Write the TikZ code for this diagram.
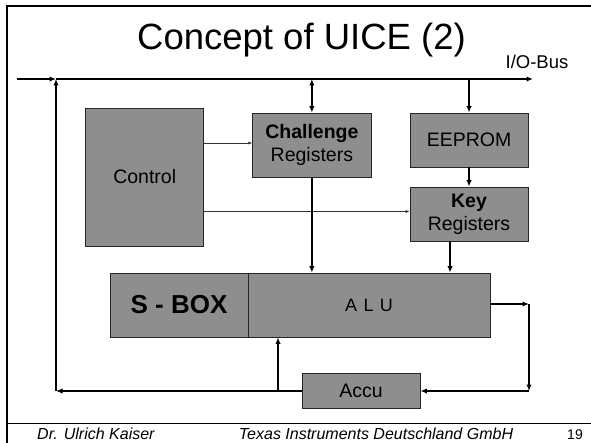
\documentclass[tikz,border=0pt]{standalone}
\usepackage{fontspec}
\setmainfont{Liberation Sans}
\usetikzlibrary{arrows.meta,calc}
\definecolor{boxgray}{RGB}{142,142,142}

\begin{document}
\begin{tikzpicture}[x=1pt,y=-1pt,
  block/.style={draw=black!85, line width=0.9pt, fill=boxgray, minimum width=118pt,
                inner sep=0pt, font=\fontsize{19.5}{23}\selectfont, align=center},
  flow/.style={line width=1.5pt, -{Latex[length=6.5pt,width=5.5pt]}},
  link/.style={line width=1.5pt},
  ctrl/.style={line width=0.7pt, draw=black!80, -{Latex[length=4pt,width=3.2pt]}},
  frame/.style={line width=2pt},
]
\useasboundingbox (0,0) rectangle (591,443);

% slide frame
\draw[frame] (591,5.7) -- (7,5.7) -- (7,443);
\draw[line width=1pt] (7,423) -- (591,423);

% title and bus label
\node[anchor=base, font=\fontsize{36.5}{40}\selectfont, inner sep=0pt] (title) at (301.5,50) {Concept of UICE (2)};
\node[anchor=base, font=\fontsize{18.5}{22}\selectfont, inner sep=0pt] (buslabel) at (537,69) {I/O-Bus};

% functional blocks
\node[block, minimum width=118pt, minimum height=138pt] (ctl) at (144.7,177) {Control};
\node[block, minimum width=118.3pt, minimum height=64pt] (chal) at (311.85,145) {\textbf{Challenge}\\Registers};
\node[block, minimum height=54pt] (eep) at (469,140) {EEPROM};
\node[block, minimum height=54pt] (key) at (469,214) {\textbf{Key}\\Registers};
\node[block, minimum width=138pt, minimum height=64pt, font=\fontsize{26}{30}\selectfont\bfseries] (sbox) at (179,305) {S - BOX};
\node[block, minimum width=242pt, minimum height=64pt, font=\fontsize{18}{22}\selectfont] (alu) at (369,305) {A\hspace{0.35em}L\hspace{0.35em}U};
\node[block, minimum height=35pt] (accu) at (361,390.5) {Accu};

% bus coordinates
\coordinate (busL) at (17,79);
\coordinate (busJ) at (56,79);
\coordinate (busR) at (533,79);
\coordinate (fbL) at (56,391);
\coordinate (fbU) at (278,391);
\coordinate (rc1) at (529,304);
\coordinate (rc2) at (529,391);

% I/O bus
\draw[flow, line width=1.4pt] (busL) -- (busJ);
\draw[flow, line width=1.4pt] (busJ) -- (busR);

% bus to registers
\draw[link, {Latex[length=6.5pt,width=5.5pt]}-{Latex[length=6.5pt,width=5.5pt]}] (chal.north |- busJ) -- (chal.north);
\draw[flow] (eep.north |- busJ) -- (eep.north);
\draw[flow] (eep.south) -- (key.north);

% control lines
\draw[ctrl] ([yshift=2pt]ctl.east |- chal.west) -- ([yshift=2pt]chal.west);
\draw[ctrl] ([yshift=2.5pt]ctl.east |- key.west) -- ([yshift=2.5pt]key.west);

% registers to ALU
\draw[flow] (chal.south) -- (chal.south |- alu.north);
\draw[flow, line width=1.8pt] ([xshift=-19pt]key.south) -- ([xshift=-19pt]key.south |- alu.north);

% ALU output loop through the accumulator
\draw[flow] (alu.east |- rc1) -- (rc1);
\draw[flow] (rc1) -- (rc2);
\draw[flow] (rc2) -- (accu.east |- rc2);
\draw[flow] (accu.west |- fbL) -- (fbL);
\draw[flow] (fbL) -- (busJ);
\draw[flow] (fbU) -- (fbU |- alu.south);

% footer
\node[anchor=base west, font=\fontsize{16}{18}\selectfont\itshape, inner sep=0pt] (author) at (37,439.5) {Dr. Ulrich Kaiser};
\node[anchor=base, font=\fontsize{16}{18}\selectfont\itshape, inner sep=0pt] (company) at (376,439.5) {Texas Instruments Deutschland GmbH};
\node[anchor=base, font=\fontsize{14}{16}\selectfont, inner sep=0pt] (page) at (575,439.5) {19};
\end{tikzpicture}
\end{document}
